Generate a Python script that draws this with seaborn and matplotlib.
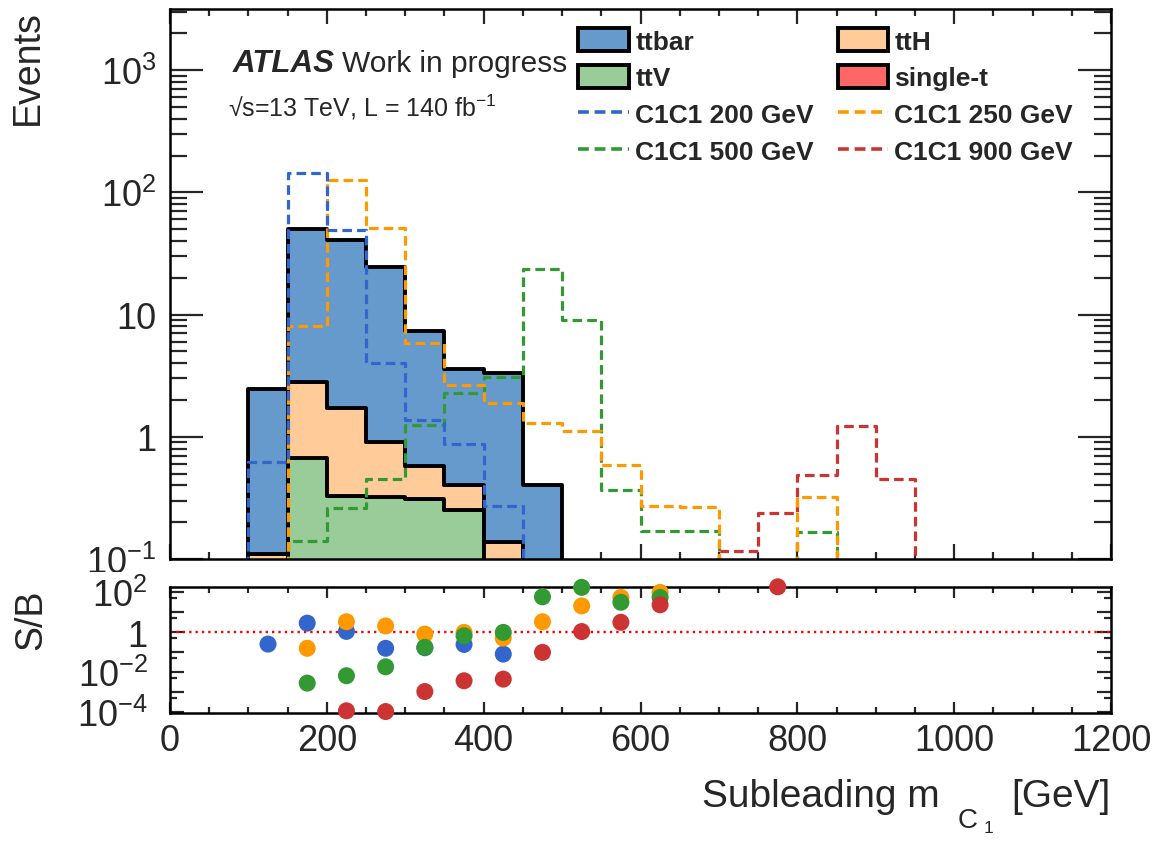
import numpy as np
import pandas as pd
import matplotlib
matplotlib.use("Agg")
import matplotlib.pyplot as plt
import seaborn as sns
from matplotlib.patches import Patch, Rectangle
from matplotlib.lines import Line2D
from matplotlib.ticker import FixedLocator, NullFormatter, MultipleLocator
from matplotlib.font_manager import FontProperties

# ---------------- data ----------------
edges = list(range(0, 1250, 50))
centers = [e + 25 for e in edges[:-1]]

ttbar = [0, 0, 2.36, 47.2, 39.3, 23.4, 6.83, 3.15, 3.21, 0.35, 0, 0, 0, 0, 0, 0, 0, 0, 0, 0, 0, 0, 0, 0]
ttH   = [0, 0, 0.06, 2.16, 1.41, 0.59, 0.26, 0.15, 0.088, 0.03, 0.004, 0.003, 0.002, 0, 0, 0.001, 0, 0, 0, 0, 0, 0, 0, 0]
ttV   = [0, 0, 0.05, 0.66, 0.32, 0.32, 0.31, 0.25, 0.05, 0.02, 0.01, 0.008, 0.005, 0, 0, 0.002, 0, 0, 0, 0, 0, 0, 0, 0]
single_t = [0, 0, 0, 0.005, 0.005, 0.003, 0.002, 0.002, 0.001, 0, 0, 0, 0, 0, 0, 0, 0, 0, 0, 0, 0, 0, 0, 0]

c1c1_200 = [0, 0, 0.62, 143, 49, 4.04, 1.38, 0.88, 0.27, 0, 0, 0, 0, 0, 0, 0, 0, 0, 0, 0, 0, 0, 0, 0]
c1c1_250 = [0, 0, 0, 8.1, 125, 50.7, 5.9, 2.67, 1.9, 1.30, 1.12, 0.59, 0.27, 0.265, 0, 0, 0.32, 0, 0, 0, 0, 0, 0, 0]
c1c1_500 = [0, 0, 0, 0.14, 0.26, 0.45, 1.25, 2.3, 3.1, 23.4, 9.1, 0.37, 0.17, 0.17, 0, 0, 0.166, 0, 0, 0, 0, 0, 0, 0]
c1c1_900 = [0, 0, 0, 0, 0, 0, 0, 0, 0, 0, 0, 0, 0, 0, 0.117, 0.24, 0.49, 1.23, 0.45, 0, 0, 0, 0, 0]

# S/B
sb_x      = [125, 175, 225, 275, 325, 375, 425, 475, 525, 575, 625, 775]
sb_200    = [0.26, 2.9, 1.12, 0.16, 0.17, 0.25, 0.082, np.nan, np.nan, np.nan, np.nan, np.nan]
sb_250    = [np.nan, 0.16, 3.4, 2.1, 0.82, 1.0, 0.52, 3.4, 21, 56, 100, np.nan]
sb_500    = [np.nan, 0.0029, 0.0068, 0.019, 0.18, 0.68, 1.0, 60, 178, 32, 56, np.nan]
sb_900    = [np.nan, np.nan, 1.2e-4, 1.1e-4, 0.0011, 0.0038, 0.0046, 0.1, 1.1, 3.2, 24, 190]

bkg_names = ["ttbar", "ttH", "ttV", "single-t"]
sig_names = ["C1C1 200 GeV", "C1C1 250 GeV", "C1C1 500 GeV", "C1C1 900 GeV"]

bkg_colors = {"ttbar": "#6699cc", "ttH": "#ffcc99", "ttV": "#99cc99", "single-t": "#ff6666"}
sig_colors = {"C1C1 200 GeV": "#3366cc", "C1C1 250 GeV": "#ff9900",
              "C1C1 500 GeV": "#339933", "C1C1 900 GeV": "#cc3333"}

bkg_df = pd.concat([
    pd.DataFrame({"x": centers, "w": vals, "process": name})
    for name, vals in zip(bkg_names, [ttbar, ttH, ttV, single_t])
], ignore_index=True)
sig_df = pd.concat([
    pd.DataFrame({"x": centers, "w": vals, "signal": name})
    for name, vals in zip(sig_names, [c1c1_200, c1c1_250, c1c1_500, c1c1_900])
], ignore_index=True)
sb_df = pd.concat([
    pd.DataFrame({"x": sb_x, "r": vals, "signal": name})
    for name, vals in zip(sig_names, [sb_200, sb_250, sb_500, sb_900])
], ignore_index=True).dropna()

# ---------------- style ----------------
sns.set_style("white")
plt.rcParams["font.family"] = ["Liberation Sans", "DejaVu Sans"]
plt.rcParams["mathtext.fontset"] = "custom"
plt.rcParams["mathtext.rm"] = "Liberation Sans"
plt.rcParams["mathtext.it"] = "Liberation Sans:italic"
plt.rcParams["mathtext.bf"] = "Liberation Sans:bold"

W, H = 1161, 845
fig = plt.figure(figsize=(W / 100, H / 100), dpi=100)

def fx(px):
    return px / W

def fy(px):
    return 1 - px / H

ax = fig.add_axes([fx(170), fy(560), fx(941), 550 / H])
ax2 = fig.add_axes([fx(170), fy(714), fx(941), 126 / H])
ax2.set_zorder(10)

# ---------------- main panel ----------------
sns.histplot(data=bkg_df, x="x", weights="w", hue="process", hue_order=bkg_names,
             multiple="stack", bins=edges, element="step", palette=bkg_colors,
             edgecolor="black", linewidth=2.8, alpha=1, legend=False, ax=ax)

dash = (0, (3.0, 1.6))
sns.histplot(data=sig_df, x="x", weights="w", hue="signal", hue_order=sig_names,
             bins=edges, element="step", fill=False, palette=sig_colors,
             linewidth=2.3, linestyle=dash, legend=False, ax=ax)

ax.set_yscale("log")
ax.set_xlim(0, 1200)
ax.set_ylim(0.1, 3162)
ax.set_xlabel("")
ax.set_ylabel("")

ax.yaxis.set_major_locator(FixedLocator([0.1, 1, 10, 100, 1000]))
ax.set_yticklabels([r"$10^{-1}$", "1", "10", r"$10^{2}$", r"$10^{3}$"])
minor = [m * 10.0 ** e for e in range(-1, 4) for m in range(2, 10)]
ax.yaxis.set_minor_locator(FixedLocator(minor))
ax.yaxis.set_minor_formatter(NullFormatter())
ax.xaxis.set_major_locator(MultipleLocator(200))
ax.xaxis.set_minor_locator(MultipleLocator(50))
ax.tick_params(axis="x", which="both", direction="in", top=True, bottom=True, labelbottom=False, width=1.6)
ax.tick_params(axis="x", which="major", length=11)
ax.tick_params(axis="x", which="minor", length=5)
ax.tick_params(axis="y", which="both", direction="in", left=True, right=True, width=1.6, labelsize=26, pad=10)
ax.tick_params(axis="y", which="major", length=24)
ax.tick_params(axis="y", which="minor", length=12)
for s in ax.spines.values():
    s.set_linewidth(1.8)
    s.set_color("black")

ax.text((233 - 170) / 941, 0.888, "ATLAS", transform=ax.transAxes, fontsize=22.5,
        fontweight="bold", fontstyle="italic", ha="left", va="baseline")
ax.text((342 - 170) / 941, 0.888, "Work in progress", transform=ax.transAxes, fontsize=21.5,
        ha="left", va="baseline")
ax.text((228 - 170) / 941, 0.806, "√s=13 TeV, L = 140 fb$^{-1}$", transform=ax.transAxes,
        fontsize=18, ha="left", va="baseline")

# legend
handles = {n: Patch(facecolor=bkg_colors[n], edgecolor="black", linewidth=2.8) for n in bkg_names}
for n in sig_names:
    handles[n] = Line2D([], [], color=sig_colors[n], linewidth=2.6, linestyle=dash)
order = ["ttbar", "ttV", "C1C1 200 GeV", "C1C1 500 GeV", "ttH", "single-t", "C1C1 250 GeV", "C1C1 900 GeV"]
ax.legend([handles[n] for n in order], order, ncol=2, loc="upper left",
          bbox_to_anchor=(0.434, 0.965), frameon=False,
          prop=FontProperties(family="Liberation Sans", weight="bold", size=19),
          handlelength=1.9, handleheight=0.95, handletextpad=0.25,
          columnspacing=0.9, labelspacing=0.43, borderpad=0, borderaxespad=0)

# ---------------- ratio panel ----------------
ax2.axhline(1, color="red", linestyle=(0, (1, 1.7)), linewidth=1.7, zorder=1)
sns.scatterplot(data=sb_df, x="x", y="r", hue="signal", hue_order=sig_names,
                palette=sig_colors, s=150, linewidth=0, legend=False, ax=ax2,
                clip_on=False, zorder=3)
ax2.set_yscale("log")
ax2.set_xlim(0, 1200)
ax2.set_ylim(9.3e-5, 186)
ax2.set_xlabel("")
ax2.set_ylabel("")
ax2.yaxis.set_major_locator(FixedLocator([1e-4, 1e-3, 1e-2, 1e-1, 1, 10, 100]))
ax2.set_yticklabels([r"$10^{-4}$", "", r"$10^{-2}$", "", "1", "", r"$10^{2}$"])
ax2.yaxis.set_minor_locator(FixedLocator([5 * 10.0 ** e for e in range(-5, 2)]))
ax2.yaxis.set_minor_formatter(NullFormatter())
ax2.xaxis.set_major_locator(MultipleLocator(200))
ax2.xaxis.set_minor_locator(MultipleLocator(50))
ax2.tick_params(axis="x", which="both", direction="in", top=True, bottom=True, width=1.6,
                labelsize=26, pad=7)
ax2.tick_params(axis="x", which="major", length=8)
ax2.tick_params(axis="x", which="minor", length=4)
ax2.tick_params(axis="y", which="both", direction="in", left=True, right=True, width=1.6,
                labelsize=26, pad=16)
ax2.tick_params(axis="y", which="major", length=10)
ax2.tick_params(axis="y", which="minor", length=5)
for s in ax2.spines.values():
    s.set_linewidth(1.8)
    s.set_color("black")

# pad boundary hiding the bottom of the lowest main-panel label
fig.patches.append(Rectangle((0, fy(588)), fx(168), (588 - 573) / H, transform=fig.transFigure,
                             facecolor="white", edgecolor="none", zorder=5))

fig.text(fx(28), fy(68), "Events", rotation=90, ha="center", va="center", fontsize=27)
fig.text(fx(31), fy(620), "S/B", rotation=90, ha="center", va="center", fontsize=27)

# x-axis title, ROOT-style with a deep double subscript
fig.text(fx(940), fy(807), "Subleading m", ha="right", va="baseline", fontsize=28)
fig.text(fx(958), fy(828), "C", ha="left", va="baseline", fontsize=20)
fig.text(fx(984), fy(833), "1", ha="left", va="baseline", fontsize=12.5)
fig.text(fx(1111), fy(807), "[GeV]", ha="right", va="baseline", fontsize=28)

fig.savefig("out.png", dpi=100)
